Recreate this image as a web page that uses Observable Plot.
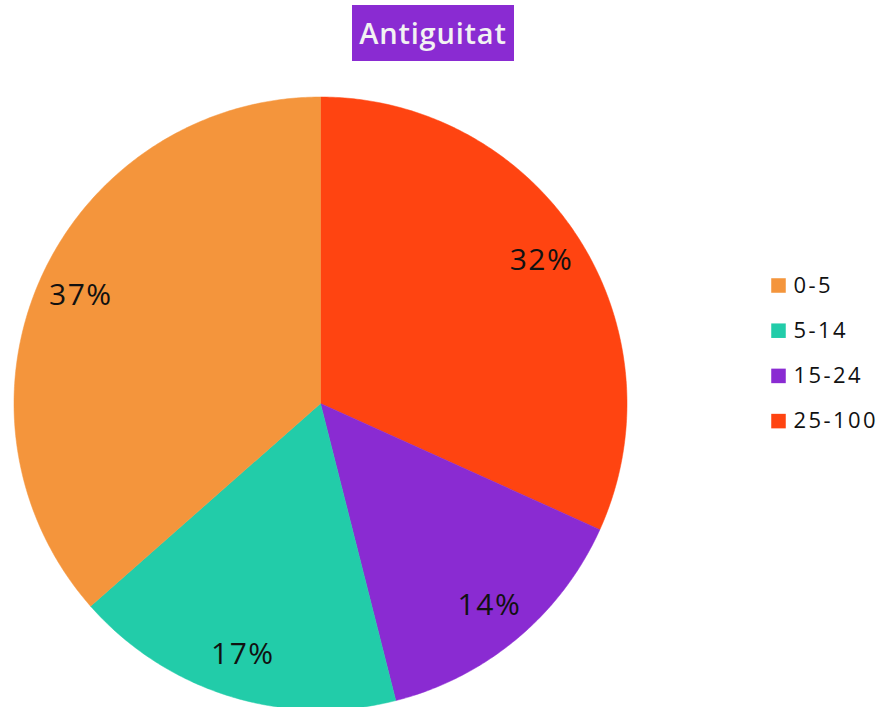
<!DOCTYPE html>
<html>
<head>
<meta charset="utf-8">
<script src="https://cdn.jsdelivr.net/npm/d3@7"></script>
<script src="https://cdn.jsdelivr.net/npm/@observablehq/plot@0.6"></script>
<style>
  html, body { margin: 0; padding: 0; background: #fff; width: 885px; height: 707px; overflow: hidden; }
  #title-wrap { height: 65px; position: relative; }
  #title {
    position: absolute; left: 352px; top: 5px; width: 162px; height: 56px;
    background: #8A2BD2; color: #F2F2F2; font-family: "Open Sans", sans-serif;
    font-weight: 600; font-size: 29px; line-height: 56px; text-align: center; letter-spacing: 0.8px;
  }
  svg { display: block; }
</style>
</head>
<body>
<div id="title-wrap"><div id="title">Antiguitat</div></div>
<div id="chart"></div>
<script>
// Data (drawn clockwise from 12 o'clock)
const categories = ["25-100", "15-24", "5-14", "0-5"];
const values = [31.75, 14.3, 17.45, 36.5];
const legendOrder = ["0-5", "5-14", "15-24", "25-100"];
const colors = {"0-5": "#F4953C", "5-14": "#22CCA9", "15-24": "#8A2BD2", "25-100": "#FF4411"};

// Layout (page pixels)
const W = 885, H = 642, topOffset = 65;
const cx = 320, cy = 403 - topOffset, R = 306.5;

// Unit coordinates: radius = 1
const xDomain = [-cx / R, (W - cx) / R];
const yDomain = [-(H - cy) / R, cy / R];

const total = d3.sum(values);
const slices = [];
const labels = [];
let acc = 0;
categories.forEach((c, i) => {
  const a0 = acc / total * 2 * Math.PI;
  acc += values[i];
  const a1 = acc / total * 2 * Math.PI;
  const steps = Math.max(8, Math.ceil((a1 - a0) / 0.01));
  slices.push({key: c, x: 0, y: 0});
  for (let k = 0; k <= steps; k++) {
    const a = a0 + (a1 - a0) * k / steps;
    slices.push({key: c, x: Math.sin(a), y: Math.cos(a)});
  }
  slices.push({key: c, x: 0, y: 0});
  const am = (a0 + a1) / 2;
  labels.push({key: c, x: 0.858 * Math.sin(am), y: 0.858 * Math.cos(am), text: Math.round(values[i]) + "%"});
});

// Legend positions (unit coordinates)
const legend = legendOrder.map((k, i) => ({
  key: k,
  x: (778 - cx) / R,
  tx: (793 - cx) / R,
  y: (cy - (285 - topOffset + i * 45.2)) / R
}));

const chart = Plot.plot({
  width: W, height: H,
  margin: 0,
  x: {domain: xDomain, axis: null},
  y: {domain: yDomain, axis: null},
  color: {domain: legendOrder, range: legendOrder.map(k => colors[k])},
  style: {fontFamily: "'Open Sans', sans-serif", background: "#fff"},
  marks: [
    Plot.line(slices, {x: "x", y: "y", z: "key", fill: "key", stroke: "key", strokeWidth: 0.5, curve: "linear"}),
    Plot.text(labels, {x: "x", y: "y", text: "text", fontSize: 30, fill: "#111", textAnchor: "middle"}),
    Plot.dot(legend, {x: "x", y: "y", symbol: "square", r: 8.2, fill: "key", stroke: "none"}),
    Plot.text(legend, {x: "tx", y: "y", text: "key", fontSize: 22, fill: "#111", textAnchor: "start"})
  ]
});
d3.select(chart).selectAll('g[font-size="22"] text').style("letter-spacing", "2.4px");
d3.select(chart).selectAll('g[font-size="30"] text').style("letter-spacing", "1.5px");
document.getElementById("chart").appendChild(chart);
</script>
</body>
</html>
